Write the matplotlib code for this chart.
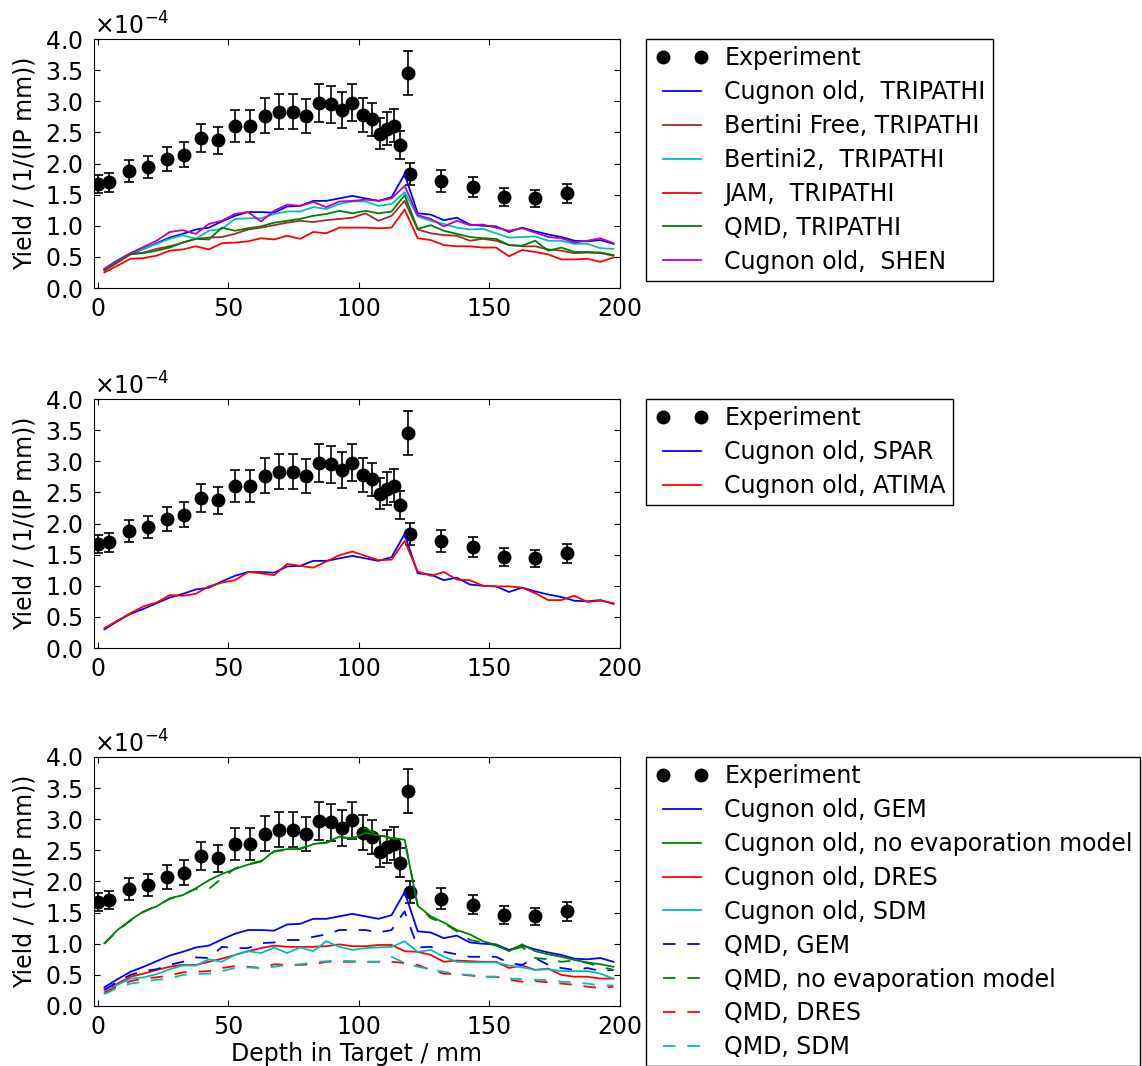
import numpy as np
import matplotlib
matplotlib.use("Agg")
import matplotlib.pyplot as plt
from matplotlib.ticker import MultipleLocator
from matplotlib.legend_handler import HandlerLine2D
from matplotlib.lines import Line2D

plt.rcParams['font.family'] = ['DejaVu Sans']
plt.rcParams['font.size'] = 17
plt.rcParams['xtick.direction'] = 'in'
plt.rcParams['ytick.direction'] = 'in'
plt.rcParams['xtick.top'] = True
plt.rcParams['ytick.right'] = True
plt.rcParams['xtick.major.size'] = 4
plt.rcParams['ytick.major.size'] = 4
plt.rcParams['xtick.major.pad'] = 6.5
plt.rcParams['ytick.major.pad'] = 8
plt.rcParams['lines.scale_dashes'] = False

# yields are given in units of 1e-4 / (IP mm)
UNIT = 1e-4

# measured points
exp_depth = [0.0, 4.2, 12.0, 19.3, 26.4, 32.8, 39.4, 46.0, 52.4, 58.2, 63.9,
             69.3, 74.8, 79.7, 84.6, 89.3, 93.5, 97.5, 101.5, 105.1, 108.0,
             110.8, 113.3, 115.7, 118.6, 119.5, 131.4, 143.7, 155.5, 167.5, 179.7]
exp_yield = [1.67, 1.70, 1.88, 1.94, 2.07, 2.14, 2.41, 2.37, 2.60, 2.60, 2.77,
             2.83, 2.83, 2.76, 2.97, 2.95, 2.86, 2.98, 2.78, 2.71, 2.48,
             2.56, 2.61, 2.30, 3.45, 1.83, 1.72, 1.63, 1.46, 1.44, 1.52]
exp_err = [0.15, 0.15, 0.17, 0.18, 0.19, 0.20, 0.22, 0.22, 0.26, 0.26, 0.28,
           0.28, 0.28, 0.27, 0.30, 0.30, 0.29, 0.30, 0.28, 0.27, 0.25,
           0.26, 0.26, 0.23, 0.35, 0.18, 0.17, 0.16, 0.15, 0.14, 0.15]

# simulation bin centres (mm)
depth = [2.5, 7.5, 12.5, 17.5, 22.5, 27.5, 32.5, 37.5, 42.5, 47.5,
         52.5, 57.5, 62.5, 67.5, 72.5, 77.5, 82.5, 87.5, 92.5, 97.5,
         102.5, 107.5, 112.5, 117.5, 122.5, 127.5, 132.5, 137.5, 142.5, 147.5,
         152.5, 157.5, 162.5, 167.5, 172.5, 177.5, 182.5, 187.5, 192.5, 197.5]

# Cugnon old with default settings (TRIPATHI / SPAR / GEM)
cugnon_old = [0.30, 0.43, 0.55, 0.63, 0.72, 0.81, 0.87, 0.94, 0.97, 1.07,
              1.16, 1.22, 1.22, 1.21, 1.31, 1.32, 1.40, 1.40, 1.44, 1.48,
              1.44, 1.40, 1.46, 1.83, 1.20, 1.18, 1.09, 1.13, 1.02, 1.00,
              0.99, 0.90, 0.97, 0.91, 0.86, 0.82, 0.76, 0.75, 0.77, 0.71]
bertini_free = [0.28, 0.41, 0.54, 0.57, 0.63, 0.67, 0.73, 0.79, 0.81, 0.82,
                0.87, 0.94, 0.97, 1.01, 1.05, 1.08, 1.06, 1.09, 1.11, 1.13,
                1.20, 1.08, 1.16, 1.40, 0.94, 0.88, 0.85, 0.84, 0.76, 0.79,
                0.76, 0.69, 0.67, 0.67, 0.62, 0.60, 0.56, 0.57, 0.56, 0.52]
bertini2 = [0.31, 0.45, 0.56, 0.63, 0.71, 0.79, 0.85, 0.79, 0.92, 0.95,
            1.11, 1.12, 1.12, 1.19, 1.23, 1.23, 1.30, 1.27, 1.35, 1.39,
            1.39, 1.32, 1.35, 1.54, 1.15, 1.08, 1.03, 0.97, 0.94, 0.95,
            0.88, 0.81, 0.82, 0.83, 0.76, 0.76, 0.71, 0.71, 0.64, 0.63]
jam = [0.25, 0.36, 0.47, 0.48, 0.52, 0.60, 0.62, 0.67, 0.62, 0.72,
       0.73, 0.75, 0.80, 0.78, 0.84, 0.79, 0.90, 0.88, 0.97, 0.97,
       0.97, 0.96, 0.97, 1.26, 0.80, 0.77, 0.69, 0.67, 0.67, 0.65,
       0.65, 0.51, 0.61, 0.58, 0.54, 0.46, 0.46, 0.47, 0.42, 0.49]
qmd_tripathi = [0.29, 0.42, 0.55, 0.56, 0.60, 0.65, 0.73, 0.79, 0.78, 0.97,
                0.92, 0.96, 0.99, 1.05, 1.08, 1.11, 1.16, 1.19, 1.24, 1.20,
                1.24, 1.20, 1.23, 1.49, 0.95, 1.01, 0.92, 0.87, 0.82, 0.80,
                0.79, 0.69, 0.68, 0.76, 0.60, 0.65, 0.58, 0.58, 0.57, 0.53]
cugnon_shen = [0.31, 0.44, 0.56, 0.66, 0.76, 0.90, 0.93, 0.87, 1.03, 1.08,
               1.19, 1.22, 1.07, 1.24, 1.34, 1.32, 1.38, 1.30, 1.39, 1.40,
               1.42, 1.40, 1.44, 1.64, 1.17, 1.11, 0.99, 1.08, 1.01, 1.02,
               0.97, 0.92, 0.96, 0.89, 0.82, 0.80, 0.73, 0.76, 0.80, 0.72]

cugnon_atima = [0.32, 0.44, 0.56, 0.67, 0.73, 0.85, 0.84, 0.87, 0.99, 1.05,
                1.09, 1.22, 1.20, 1.17, 1.35, 1.32, 1.29, 1.39, 1.49, 1.55,
                1.48, 1.41, 1.42, 1.72, 1.23, 1.16, 1.22, 1.10, 1.09, 1.00,
                0.99, 0.99, 0.97, 0.88, 0.77, 0.77, 0.84, 0.74, 0.76, 0.72]

cugnon_noevap = [1.01, 1.22, 1.38, 1.52, 1.60, 1.73, 1.78, 1.89, 2.02, 2.12,
                 2.20, 2.27, 2.32, 2.49, 2.52, 2.52, 2.60, 2.63, 2.72, 2.69,
                 2.78, 2.74, 2.70, 2.67, 1.61, 1.44, 1.34, 1.22, 1.15, 1.04,
                 0.98, 0.88, 0.99, 0.88, 0.83, 0.79, 0.74, 0.70, 0.67, 0.63]
cugnon_dres = [0.26, 0.36, 0.47, 0.52, 0.58, 0.63, 0.66, 0.66, 0.71, 0.76,
               0.82, 0.88, 0.93, 0.97, 0.95, 0.95, 0.95, 0.96, 0.99, 0.96,
               0.96, 0.98, 0.98, 0.88, 0.87, 0.82, 0.71, 0.73, 0.72, 0.71,
               0.71, 0.61, 0.65, 0.58, 0.60, 0.50, 0.47, 0.47, 0.44, 0.44]
cugnon_sdm = [0.21, 0.34, 0.44, 0.46, 0.51, 0.59, 0.65, 0.65, 0.75, 0.71,
              0.82, 0.88, 0.85, 0.94, 0.85, 0.94, 0.88, 1.04, 0.95, 0.90,
              0.93, 0.94, 0.95, 1.04, 0.87, 0.90, 0.79, 0.71, 0.70, 0.70,
              0.70, 0.65, 0.62, 0.58, 0.59, 0.56, 0.56, 0.56, 0.52, 0.44]
qmd_gem = [0.26, 0.39, 0.50, 0.56, 0.59, 0.66, 0.71, 0.78, 0.77, 0.95,
           0.93, 0.93, 1.01, 1.02, 1.06, 1.06, 1.11, 1.15, 1.22, 1.22,
           1.22, 1.18, 1.22, 1.52, 0.94, 0.95, 0.87, 0.83, 0.79, 0.79,
           0.79, 0.69, 0.66, 0.77, 0.66, 0.61, 0.58, 0.61, 0.56, 0.58]
qmd_noevap = [1.00, 1.21, 1.37, 1.51, 1.61, 1.72, 1.79, 1.88, 1.88, 2.05,
              2.21, 2.28, 2.33, 2.48, 2.51, 2.53, 2.61, 2.62, 2.70, 2.70,
              2.85, 2.75, 2.69, 2.66, 1.62, 1.41, 1.33, 1.20, 1.06, 1.02,
              0.97, 0.89, 0.95, 0.77, 0.75, 0.71, 0.73, 0.69, 0.63, 0.58]
qmd_dres = [0.22, 0.31, 0.40, 0.44, 0.46, 0.49, 0.54, 0.55, 0.56, 0.61,
            0.64, 0.63, 0.61, 0.67, 0.66, 0.66, 0.67, 0.71, 0.71, 0.71,
            0.71, 0.71, 0.71, 0.69, 0.66, 0.58, 0.52, 0.51, 0.49, 0.47,
            0.47, 0.42, 0.39, 0.40, 0.38, 0.36, 0.34, 0.31, 0.29, 0.31]
qmd_sdm = [0.19, 0.29, 0.36, 0.39, 0.42, 0.44, 0.50, 0.51, 0.52, 0.56,
           0.61, 0.62, 0.61, 0.63, 0.66, 0.67, 0.70, 0.72, 0.73, 0.72,
           0.71, 0.71, 0.79, 0.69, 0.63, 0.59, 0.55, 0.51, 0.50, 0.47,
           0.47, 0.44, 0.43, 0.42, 0.42, 0.39, 0.38, 0.36, 0.33, 0.33]

BLUE, RED, GREEN = (0, 0, 1), (1, 0, 0), (0, 0.5, 0)
CYAN, MAGENTA, BROWN = (0, 0.75, 0.75), (0.75, 0, 0.75), '#a52a2a'
DASH = (9, 8.5)
LW = 1.3

panels = [
    [(cugnon_old, BLUE, None, 'Cugnon old,  TRIPATHI'),
     (bertini_free, BROWN, None, 'Bertini Free, TRIPATHI'),
     (bertini2, CYAN, None, 'Bertini2,  TRIPATHI'),
     (jam, RED, None, 'JAM,  TRIPATHI'),
     (qmd_tripathi, GREEN, None, 'QMD, TRIPATHI'),
     (cugnon_shen, MAGENTA, None, 'Cugnon old,  SHEN')],
    [(cugnon_old, BLUE, None, 'Cugnon old, SPAR'),
     (cugnon_atima, RED, None, 'Cugnon old, ATIMA')],
    [(cugnon_old, BLUE, None, 'Cugnon old, GEM'),
     (cugnon_noevap, GREEN, None, 'Cugnon old, no evaporation model'),
     (cugnon_dres, RED, None, 'Cugnon old, DRES'),
     (cugnon_sdm, CYAN, None, 'Cugnon old, SDM'),
     (qmd_gem, BLUE, DASH, 'QMD, GEM'),
     (qmd_noevap, GREEN, DASH, 'QMD, no evaporation model'),
     (qmd_dres, RED, DASH, 'QMD, DRES'),
     (qmd_sdm, CYAN, DASH, 'QMD, SDM')],
]

fig = plt.figure(figsize=(11.42, 10.66), dpi=100, facecolor='white')
bottoms = [0.7298, 0.3921, 0.0563]
x_exp = np.array(exp_depth)
y_exp = np.array(exp_yield) * UNIT
e_exp = np.array(exp_err) * UNIT

# legend handles start a little inside the frame and run the full handle
# length; the two experiment dots sit at both ends
handle_style = HandlerLine2D(marker_pad=0, xpad=0.4)

for i, (bottom, curves) in enumerate(zip(bottoms, panels)):
    ax = fig.add_axes([0.0823, bottom, 0.4606, 0.2336])
    ax.errorbar(x_exp, y_exp, yerr=e_exp, fmt='none', ecolor='k',
                elinewidth=1.2, capsize=3.5, capthick=1.2)
    ax.plot(x_exp, y_exp, 'o', color='k', ms=9, label='Experiment')
    for values, color, dashes, label in curves:
        y = np.array(values) * UNIT
        if dashes is None:
            ax.plot(depth, y, '-', color=color, lw=LW, label=label)
        else:
            ax.plot(depth, y, color=color, lw=LW, linestyle=(0, dashes), label=label)

    ax.set_xlim(-1.5, 200)
    ax.set_ylim(0, 4e-4)
    ax.xaxis.set_major_locator(MultipleLocator(50))
    ax.yaxis.set_major_locator(MultipleLocator(0.5e-4))
    ax.ticklabel_format(axis='y', style='sci', scilimits=(0, 0), useMathText=True)
    ax.set_ylabel('Yield / (1/(IP mm))', labelpad=6)
    if i == 2:
        ax.set_xlabel('Depth in Target / mm', labelpad=2)

    leg = ax.legend(loc='upper left', bbox_to_anchor=(1.05, 1.0), borderaxespad=0,
                    numpoints=2, fancybox=False, framealpha=1, edgecolor='k',
                    borderpad=0.3, handlelength=2.0, handletextpad=1.0,
                    labelspacing=0.42, fontsize=17,
                    handler_map={Line2D: handle_style})
    leg.get_frame().set_linewidth(1.0)

fig.savefig('out.png', dpi=100, facecolor='white')
